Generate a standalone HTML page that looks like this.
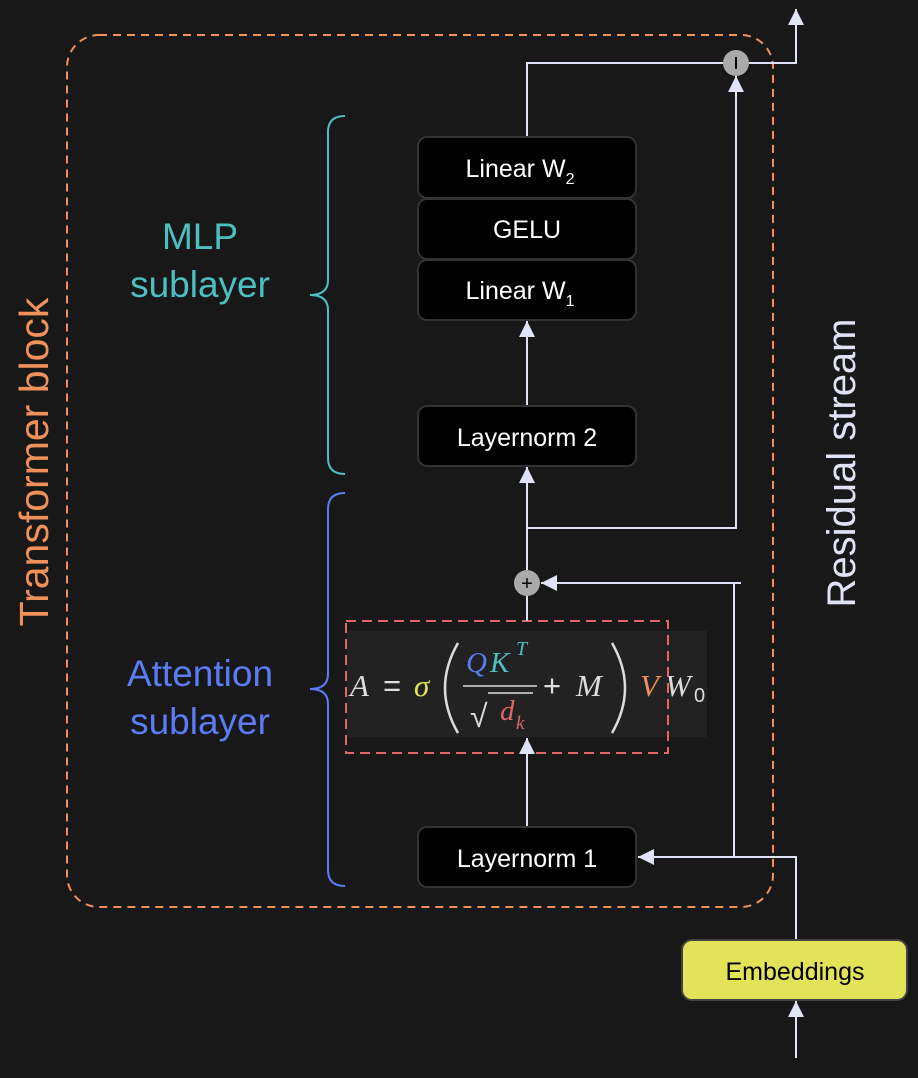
<!DOCTYPE html>
<html><head><meta charset="utf-8"><style>
html,body{margin:0;padding:0;background:#181818;}
svg{display:block;}
text{font-family:"Liberation Sans",sans-serif;}
.m{font-family:"Liberation Serif",serif;font-style:italic;}
</style></head><body>
<svg width="918" height="1078" viewBox="0 0 918 1078" xmlns="http://www.w3.org/2000/svg">
<defs>
<marker id="a" viewBox="0 0 10 10" refX="10" refY="5" markerWidth="16" markerHeight="16" markerUnits="userSpaceOnUse" orient="auto"><path d="M0,0 L10,5 L0,10 z" fill="#e0e3f5"/></marker>
</defs>
<rect width="918" height="1078" fill="#181818"/>
<rect x="67" y="35" width="706" height="872" rx="32" fill="none" stroke="#f0905a" stroke-width="2" stroke-dasharray="8,6"/>

<!-- formula -->
<rect x="347" y="631" width="360" height="106" fill="#222"/>
<g font-size="31">
<text x="350" y="696" class="m" fill="#ddd">A</text>
<text x="383" y="696" fill="#ddd" font-family="Liberation Serif">=</text>
<text x="414" y="696" class="m" fill="#e3e35a">σ</text>
<path d="M458,643 Q432,688 458,733" fill="none" stroke="#ddd" stroke-width="2.5"/>
<text x="466" y="672" class="m" fill="#5b7cf5" font-size="29">Q</text>
<text x="490" y="672" class="m" fill="#4dbfc0" font-size="29">K</text>
<text x="516" y="655" class="m" fill="#4dbfc0" font-size="20">T</text>
<line x1="463" y1="686" x2="537" y2="686" stroke="#ddd" stroke-width="1.5"/>
<text x="470" y="727" fill="#ddd" font-family="Liberation Serif" font-size="32">√</text>
<line x1="488" y1="693" x2="533" y2="693" stroke="#ddd" stroke-width="1.5"/>
<text x="500" y="720" class="m" fill="#e06868" font-size="29">d</text>
<text x="516" y="729" class="m" fill="#e06868" font-size="19">k</text>
<text x="543" y="696" fill="#ddd" font-family="Liberation Serif">+</text>
<text x="576" y="696" class="m" fill="#ddd">M</text>
<path d="M612,643 Q638,688 612,733" fill="none" stroke="#ddd" stroke-width="2.5"/>
<text x="640" y="696" class="m" fill="#f0905a">V</text>
<text x="665" y="696" class="m" fill="#ddd">W</text>
<text x="694" y="702" fill="#ddd" font-family="Liberation Serif" font-size="20">0</text>
</g>
<rect x="346" y="621" width="322" height="132" fill="none" stroke="#e06868" stroke-width="2" stroke-dasharray="10,6"/>

<!-- connectors -->
<g stroke="#e0e3f5" stroke-width="2" fill="none">
<line x1="527" y1="406" x2="527" y2="321" marker-end="url(#a)"/>
<line x1="527" y1="570" x2="527" y2="467" marker-end="url(#a)"/>
<polyline points="527,528 736,528 736,76" marker-end="url(#a)"/>
<polyline points="527,137 527,63 796,63 796,9" marker-end="url(#a)"/>
<line x1="527" y1="621" x2="527" y2="596"/>
<line x1="527" y1="827" x2="527" y2="738" marker-end="url(#a)"/>
<line x1="741" y1="583" x2="541" y2="583" marker-end="url(#a)"/>
<line x1="734" y1="583" x2="734" y2="857"/>
<polyline points="796,940 796,857 638,857" marker-end="url(#a)"/>
<line x1="796" y1="1058" x2="796" y2="1001" marker-end="url(#a)"/>
</g>
<circle cx="527" cy="583" r="13" fill="#aaa"/>
<text x="527" y="590" text-anchor="middle" font-size="20" fill="#000">+</text>
<circle cx="736" cy="63" r="13" fill="#aaa"/>
<line x1="736" y1="57" x2="736" y2="69" stroke="#000" stroke-width="2"/>

<!-- boxes -->
<g fill="#000" stroke="#333" stroke-width="2">
<rect x="418" y="137" width="218" height="61" rx="9"/>
<rect x="418" y="199" width="218" height="60" rx="9"/>
<rect x="418" y="260" width="218" height="60" rx="9"/>
<rect x="418" y="406" width="218" height="60" rx="9"/>
<rect x="418" y="827" width="218" height="60" rx="9"/>
</g>
<rect x="682" y="940" width="225" height="60" rx="10" fill="#e3e35a" stroke="#444" stroke-width="2"/>
<g font-size="25" fill="#fff" text-anchor="middle">
<text x="520" y="177">Linear W<tspan font-size="16" dy="7">2</tspan></text>
<text x="527" y="238">GELU</text>
<text x="520" y="299">Linear W<tspan font-size="16" dy="7">1</tspan></text>
<text x="527" y="446">Layernorm 2</text>
<text x="527" y="867">Layernorm 1</text>
<text x="795" y="980" fill="#000">Embeddings</text>
</g>

<!-- braces -->
<path d="M345,116 Q328,116 328,132 L328,280 Q328,295 310,295 Q328,295 328,310 L328,458 Q328,474 345,474" fill="none" stroke="#4dbfc0" stroke-width="2"/>
<path d="M345,493 Q328,493 328,509 L328,674 Q328,689 310,689 Q328,689 328,704 L328,870 Q328,886 345,886" fill="none" stroke="#5b7cf5" stroke-width="2"/>

<g font-size="37" text-anchor="middle">
<text x="200" y="249" fill="#4dbfc0">MLP</text>
<text x="200" y="297" fill="#4dbfc0">sublayer</text>
<text x="200" y="686" fill="#5b7cf5">Attention</text>
<text x="200" y="734" fill="#5b7cf5">sublayer</text>
<text transform="translate(48,462) rotate(-90)" fill="#f0905a" font-size="41">Transformer block</text>
<text transform="translate(855,463) rotate(-90)" fill="#e0e3f5" font-size="40">Residual stream</text>
</g>
</svg>
</body></html>
